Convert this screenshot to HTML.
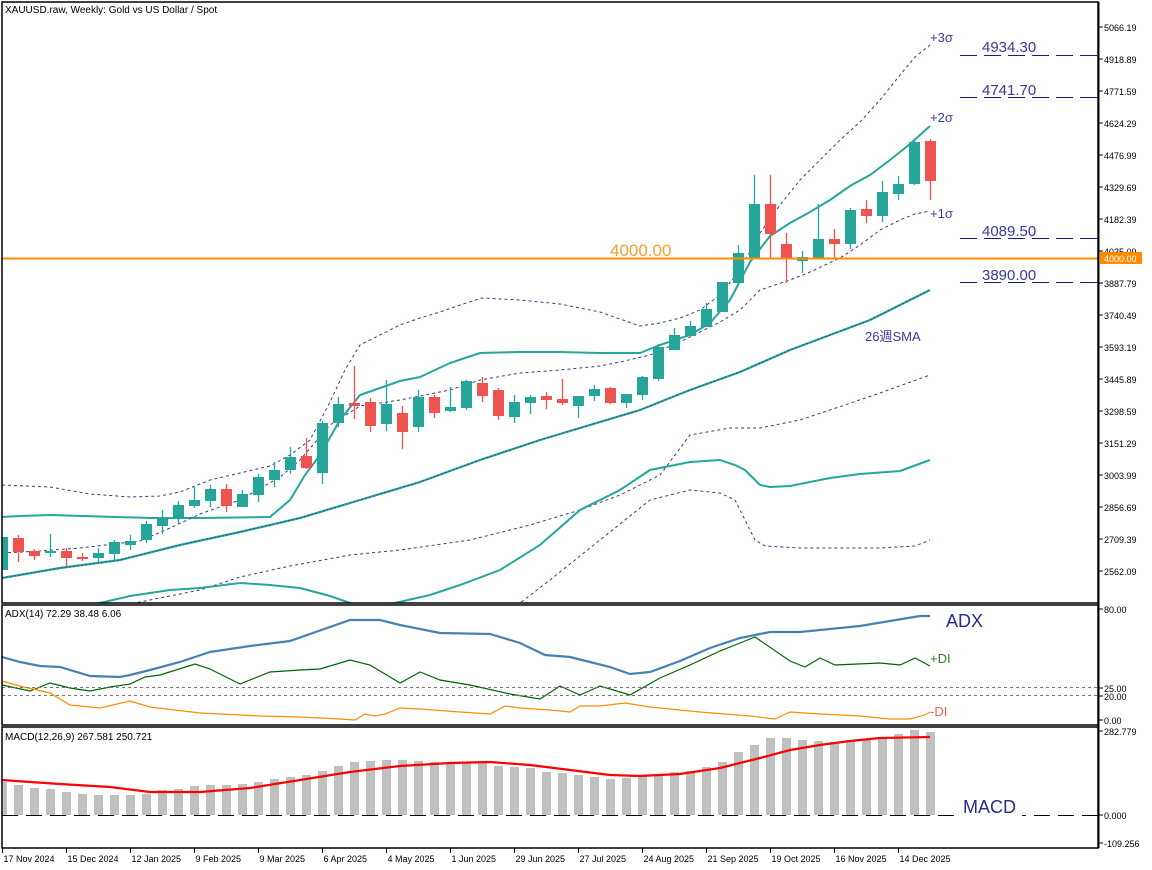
<!DOCTYPE html>
<html><head><meta charset="utf-8"><style>
html,body{margin:0;padding:0;background:#fff;}
svg{display:block;font-family:"Liberation Sans","Noto Sans CJK JP",sans-serif;}
</style></head><body>
<svg id="s" width="1152" height="870" viewBox="0 0 1152 870" xmlns="http://www.w3.org/2000/svg">
<rect width="1152" height="870" fill="#fff"/>
<g id="g"></g>
<!-- borders -->
<g fill="none" stroke="#000" stroke-width="1.5">
<rect x="2" y="2" width="1096" height="601"/>
<rect x="2" y="605" width="1096" height="120"/>
<rect x="2" y="727" width="1096" height="121"/>
</g>
<line x1="1098.5" y1="2" x2="1098.5" y2="848" stroke="#000" stroke-width="2"/>
<text x="5" y="13" font-size="10">XAUUSD.raw, Weekly:  Gold vs US Dollar / Spot</text>
<text x="5" y="617" font-size="10">ADX(14) 72.29 38.48 6.06</text>
<text x="5" y="740" font-size="10">MACD(12,26,9) 267.581 250.721</text>
</svg>
<script>
const NS="http://www.w3.org/2000/svg",g=document.getElementById('g');
function el(t,a,txt){const e=document.createElementNS(NS,t);for(const k in a)e.setAttribute(k,a[k]);if(txt!==undefined)e.textContent=txt;g.appendChild(e);return e;}
function pl(pts,a){const p=[];for(let i=0;i<pts.length;i+=2)p.push(pts[i]+','+pts[i+1]);a.points=p.join(' ');a.fill='none';return el('polyline',a);}
// clip for main
const d=document.createElementNS(NS,'defs');d.innerHTML='<clipPath id="cm"><rect x="2" y="2" width="1096" height="601"/></clipPath><clipPath id="ca"><rect x="2" y="605" width="1096" height="120"/></clipPath>';g.appendChild(d);
const mg=document.createElementNS(NS,'g');mg.setAttribute('clip-path','url(#cm)');
function pm(pts,a){const e=pl(pts,a);mg.appendChild(e);return e;}
// BB lines
const teal='#26a69a',navy='#3a3a8c';
pm([2,485,50,487,90,494,130,497,160,496,180,492,210,480,240,473,270,466,290,455,310,440,330,402,345,370,360,345,380,335,400,325,420,318,440,312,460,305,482,298,520,300,560,304,600,312,640,326,660,323,680,318,700,310,720,295,740,270,760,233,780,205,800,180,820,160,840,140,860,122,880,100,900,75,915,57,930,45],{stroke:navy,'stroke-width':1,'stroke-dasharray':'3,3'});
pm([2,517,20,516,50,515,150,518,200,518,270,517,290,500,305,475,320,455,340,420,360,395,380,388,400,381,420,377,450,363,480,353,520,352,560,352,600,353,640,353,660,345,690,335,710,323,730,300,750,262,770,236,790,223,810,212,830,200,850,186,870,175,890,160,910,144,930,126],{stroke:teal,'stroke-width':2});
pm([2,553,40,551,80,548,140,541,170,528,200,514,240,500,280,477,300,460,330,425,360,406,400,400,450,390,480,380,520,373,560,370,600,366,620,362,650,355,680,342,700,332,720,322,740,310,760,290,790,280,810,272,840,258,860,245,880,230,900,220,915,214,930,211],{stroke:navy,'stroke-width':1,'stroke-dasharray':'3,3'});
pm([2,578,60,568,120,560,180,545,240,532,300,518,360,500,420,482,480,460,540,440,590,425,640,410,690,390,740,372,790,350,830,335,870,320,900,305,930,290],{stroke:teal,'stroke-width':2.2});
pm([2,578,60,568,120,560,180,545,240,532,300,518,360,500,420,482,480,460,540,440,590,425,640,410,690,390,740,372,790,350,830,335,870,320,900,305,930,290],{stroke:navy,'stroke-width':0.8,'stroke-dasharray':'2,2'});
pm([120,606,135,603,200,590,240,577,290,566,350,555,400,550,470,540,530,525,580,510,620,495,660,475,690,435,730,428,760,428,800,420,830,410,880,393,930,375],{stroke:navy,'stroke-width':1,'stroke-dasharray':'3,3'});
pm([90,606,100,603,130,596,170,590,200,588,240,583,270,585,300,588,330,596,350,603,360,606],{stroke:teal,'stroke-width':2});
pm([385,606,395,603,430,595,460,585,500,570,540,545,580,510,620,490,650,470,690,462,720,460,735,465,745,470,760,485,770,487,790,486,830,478,860,474,900,471,930,460],{stroke:teal,'stroke-width':2});
pm([510,606,520,603,550,580,600,540,650,500,690,490,720,493,735,500,745,520,755,540,765,546,800,548,880,548,915,546,930,540],{stroke:navy,'stroke-width':1,'stroke-dasharray':'3,3'});
// candles [top,bot,hi,lo,color(1 green)]
const C=[[537,570,537,570,1],[538,552,535,562,0],[551,556,549,560,0],[551,553,534,557,1],[551,558,548,566,0],[557,558,553,561,0],[553,558,548,563,1],[542,554,540,560,1],[541,545,535,550,1],[524,540,521,543,1],[518,526,510,534,1],[505,519,501,524,1],[500,506,487,508,1],[489,501,485,507,1],[489,506,484,512,0],[494,507,490,507,1],[477,495,474,502,1],[470,480,462,487,1],[457,470,447,474,1],[456,468,438,469,0],[423,473,421,484,1],[404,423,397,427,1],[403,406,366,419,0],[402,426,398,432,0],[404,424,380,431,1],[413,432,406,449,0],[397,427,390,432,1],[397,413,395,418,0],[407,411,387,412,1],[381,408,380,410,1],[383,396,377,402,0],[390,416,388,420,0],[402,417,395,423,1],[397,403,395,414,1],[396,400,392,409,0],[399,403,379,405,0],[396,406,396,418,1],[389,396,385,401,1],[388,403,387,404,0],[394,403,394,408,1],[377,395,376,400,1],[347,379,344,381,1],[335,350,328,350,1],[326,336,321,337,1],[309,327,303,327,1],[282,312,282,312,1],[253,283,245,283,1],[204,258,175,258,1],[204,234,175,258,0],[244,258,233,283,0],[257,261,251,273,1],[239,258,204,258,1],[239,244,229,258,0],[210,244,208,249,1],[209,216,200,223,0],[192,216,181,222,1],[184,194,176,200,1],[142,184,139,185,1],[141,181,139,200,0]];
C.forEach((c,i)=>{const x=2.5+16*i,col=c[4]?'#26a69a':'#ef5350';
 const w=document.createElementNS(NS,'line');Object.entries({x1:x,x2:x,y1:c[2],y2:c[3],stroke:col,'stroke-width':1.3}).forEach(([k,v])=>w.setAttribute(k,v));mg.appendChild(w);
 const r=document.createElementNS(NS,'rect');Object.entries({x:x-5.5,y:c[0],width:11,height:Math.max(2,c[1]-c[0]),fill:col}).forEach(([k,v])=>r.setAttribute(k,v));mg.appendChild(r);});
g.appendChild(mg);
// 4000 line
el('line',{x1:2,x2:1098,y1:258.5,y2:258.5,stroke:'#ff8c00','stroke-width':2});
el('text',{x:610,y:256,'font-size':17,fill:'#f5a030'},'4000.00');
// level lines
[[55,'4934.30',52],[97,'4741.70',95],[238,'4089.50',236],[282,'3890.00',280]].forEach(l=>{
 el('line',{x1:960,x2:1097,y1:l[0]+0.5,y2:l[0]+0.5,stroke:'#1a1a80','stroke-width':1,'stroke-dasharray':'17,7'});
 el('text',{x:982,y:l[2],'font-size':15,fill:'#3a3a9a'},l[1]);});
el('text',{x:930,y:42,'font-size':13,fill:'#3a3a9a'},'+3σ');
el('text',{x:930,y:122,'font-size':13,fill:'#3a3a9a'},'+2σ');
el('text',{x:930,y:218,'font-size':13,fill:'#3a3a9a'},'+1σ');
el('text',{x:865,y:341,'font-size':13,fill:'#3a3a9a'},'26週SMA');
// price axis
const P=['5066.19','4918.89','4771.59','4624.29','4476.99','4329.69','4182.39','4035.09',null,'3887.79','3740.49','3593.19','3445.89','3298.59','3151.29','3003.99','2856.69','2709.39','2562.09'];
let ys=[27,59,91,123,155,187,219,251,0,283,315,347,379,411,443,475,507,539,571];
P.forEach((p,i)=>{if(!p)return;el('line',{x1:1099,x2:1103,y1:ys[i],y2:ys[i],stroke:'#000'});el('text',{x:1104,y:ys[i]+4,'font-size':9},p);});
el('rect',{x:1100,y:252,width:42,height:12,fill:'#ff8c00'});
el('text',{x:1104,y:262,'font-size':9,fill:'#fff'},'4000.00');
// ADX panel
const ag=document.createElementNS(NS,'g');ag.setAttribute('clip-path','url(#ca)');g.appendChild(ag);
function pa(pts,a){const e=pl(pts,a);ag.appendChild(e);}
el('line',{x1:2,x2:1098,y1:687.5,y2:687.5,stroke:'#777','stroke-dasharray':'3,3'});
el('line',{x1:2,x2:1098,y1:695.5,y2:695.5,stroke:'#777','stroke-dasharray':'3,3'});
pa([2,657,20,662,40,666,60,667,90,676,120,677,130,675,150,670,180,662,210,652,250,646,290,641,350,620,380,620,400,625,440,633,490,634,520,643,545,655,570,657,590,662,610,667,630,674,650,672,680,661,710,648,740,638,770,632,800,632,830,629,860,626,890,621,920,616,930,616],{stroke:'#4682b4','stroke-width':2.2});
pa([2,685,30,691,50,683,70,688,90,691,110,687,130,684,145,677,160,675,195,664,210,669,240,684,270,672,300,670,320,669,350,660,370,665,400,683,420,672,440,680,470,685,510,694,540,699,560,686,580,695,600,686,630,695,660,678,690,665,720,651,755,637,790,661,805,667,820,658,835,665,880,663,900,665,915,658,930,666],{stroke:'#006400','stroke-width':1.2});
pa([2,681,20,686,50,693,70,705,100,708,130,701,150,707,200,713,260,716,300,717,340,719,355,720,365,714,375,716,385,714,400,708,420,709,460,712,490,714,505,706,520,708,550,710,570,712,580,706,600,706,625,703,650,707,700,712,750,716,775,719,790,712,820,714,860,716,890,719,910,719,925,715,930,712],{stroke:'#ff8c00','stroke-width':1.2});
el('text',{x:946,y:627,'font-size':18,fill:'#2a2a90'},'ADX');
el('text',{x:930,y:663,'font-size':13,fill:'#3a7a1a'},'+DI');
el('text',{x:930,y:716,'font-size':13,fill:'#f06050'},'-DI');
[[609,'80.00'],[688,'25.00'],[696,'20.00'],[720,'0.00']].forEach(a=>{el('line',{x1:1099,x2:1103,y1:a[0],y2:a[0],stroke:'#000'});el('text',{x:1104,y:a[0]+4,'font-size':9},a[1]);});
// MACD
const H=[782,785,788,789,792,794,795,795,795,794,790,789,786,785,785,784,782,779,777,775,771,766,762,761,760,760,761,762,763,763,763,766,767,768,772,773,775,777,779,778,776,774,772,771,767,762,752,745,738,738,740,741,742,741,740,737,734,730,732];
H.forEach((h,i)=>{let x=2.5+16*i-4.5,w=9;if(x<3){w-=3-x;x=3;}el('rect',{x:x,y:h,width:w,height:815-h,fill:'#c0c0c0'});});
el('line',{x1:2,x2:1098,y1:815.5,y2:815.5,stroke:'#000','stroke-width':1,'stroke-dasharray':'16,8'});
pl([2,780,30,782,60,784,110,787,150,792,200,792,250,788,300,780,350,772,400,766,450,763,490,762,530,765,570,770,610,775,640,776,680,774,720,768,760,758,790,750,820,745,850,741,880,738,930,737],{stroke:'#ff0000','stroke-width':2.2});
el('rect',{x:960,y:796,width:62,height:22,fill:'#fff'});
el('text',{x:963,y:813,'font-size':18,fill:'#2a2a90'},'MACD');
[[731,'282.779'],[815,'0.000'],[843,'-109.256']].forEach(a=>{el('line',{x1:1099,x2:1103,y1:a[0],y2:a[0],stroke:'#000'});el('text',{x:1104,y:a[0]+4,'font-size':9},a[1]);});
// dates
const D=['17 Nov 2024','15 Dec 2024','12 Jan 2025','9 Feb 2025','9 Mar 2025','6 Apr 2025','4 May 2025','1 Jun 2025','29 Jun 2025','27 Jul 2025','24 Aug 2025','21 Sep 2025','19 Oct 2025','16 Nov 2025','14 Dec 2025'];
D.forEach((t,i)=>{const x=2.5+64*i;el('line',{x1:x,x2:x,y1:848,y2:853,stroke:'#000'});el('text',{x:x+1,y:862,'font-size':9},t);});
</script>
</body></html>
